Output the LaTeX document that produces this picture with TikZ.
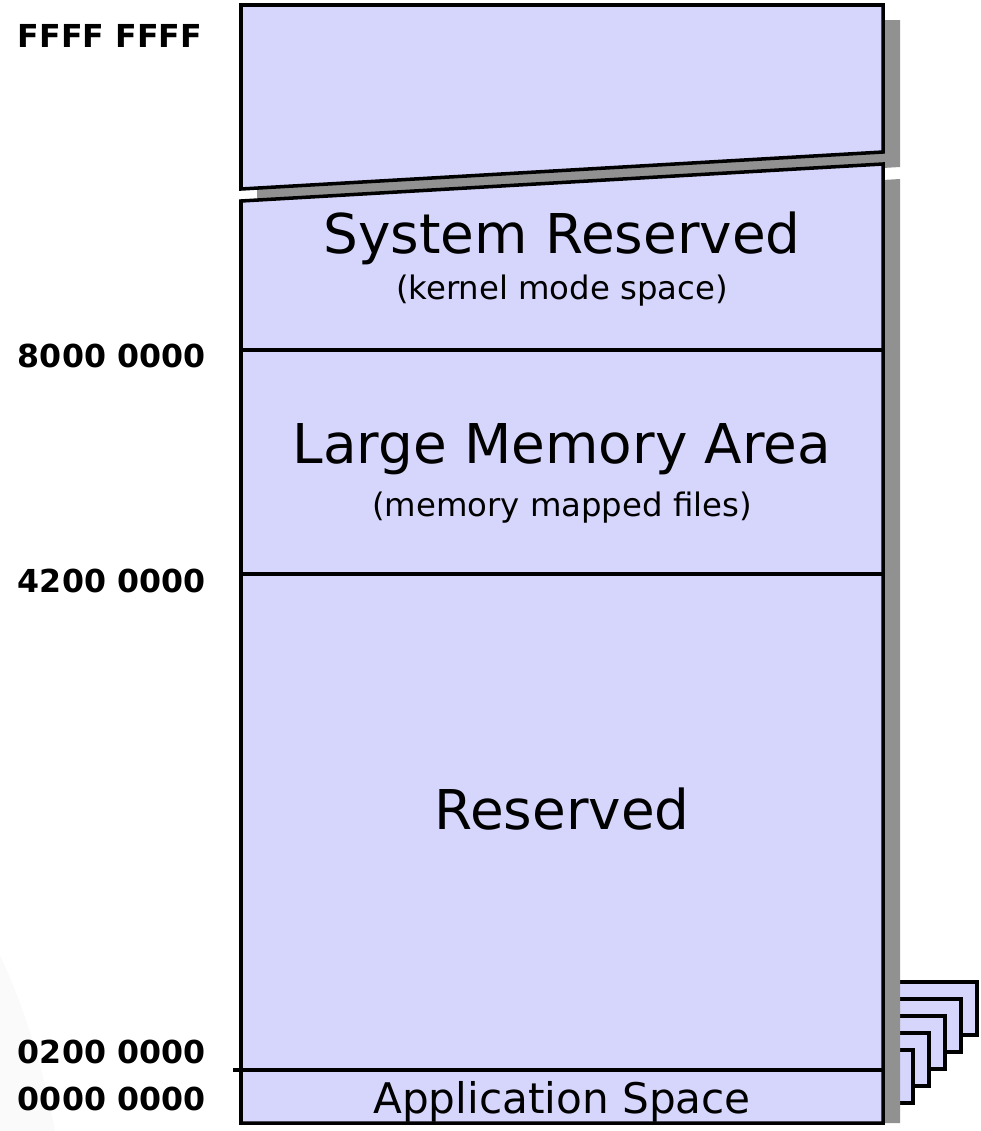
\documentclass[tikz,border=0pt]{standalone}
\usepackage{fontspec}
\setmainfont{DejaVu Sans}
\usetikzlibrary{positioning}
\definecolor{memfill}{HTML}{D6D6FC}
\definecolor{memshadow}{HTML}{919191}
\tikzset{
	region/.style={draw=black,line width=2.5pt,fill=memfill},
	divider/.style={draw=black,line width=2.3pt},
	dropshadow/.style={fill=memshadow},
	addr/.style={anchor=base west,font=\fontsize{22.5}{26}\selectfont\bfseries},
	areatitle/.style={anchor=base,font=\fontsize{39}{44}\selectfont},
	areasub/.style={anchor=base,font=\fontsize{23}{27}\selectfont}
}

\begin{document}
\begin{tikzpicture}[x=0.025cm,y=-0.025cm]
	\useasboundingbox (0,0) rectangle (980,1131);
	%BACKGROUND
	\fill[black!2] (0,955) .. controls (30,1020) and (45,1080) .. (55,1131) -- (0,1131) -- cycle;
	
	%PAGES
	\foreach \i in {0,...,4} \draw[region,line width=2.3pt] (880,{982+17*\i}) rectangle ({977-16*\i},{1035+17*\i});
	
	%SHADOWS
	\fill[dropshadow] (257,20) -- (900,20) -- (900,167) -- (257,204) -- cycle;
	\fill[dropshadow] (257,216) -- (900,179) -- (900,1123) -- (257,1123) -- cycle;
	
	%BLOCKS
	\draw[region] (241,5) -- (883,5) -- (883,152) -- (241,189) -- cycle;
	\draw[region] (241,201) -- (883,164) -- (883,1123) -- (241,1123) -- cycle;
	%
	\draw[divider] (241,350) -- (883,350);
	\draw[divider] (241,574) -- (883,574);
	\draw[divider] (233,1070) -- (883,1070);
	
	%LABELS
	\node[areatitle] (sysres) at (562,253) {System Reserved};
	\node[areasub] (kernel) at (562,299) {(kernel mode space)};
	\node[areatitle] (largemem) at (562,463) {Large Memory Area};
	\node[areasub] (mapped) at (562,516) {(memory mapped files)};
	\node[areatitle] (reserved) at (562,829) {Reserved};
	\node[anchor=base,font=\fontsize{30}{34}\selectfont] (appspace) at (562,1113) {Application Space};
	%
	\node[addr] (aFFFF) at (13,47) {FFFF FFFF};
	\node[addr] (a8000) at (13,367) {8000 0000};
	\node[addr] (a4200) at (13,592) {4200 0000};
	\node[addr] (a0200) at (13,1063) {0200 0000};
	\node[addr] (a0000) at (13,1110) {0000 0000};
\end{tikzpicture}
\end{document}
